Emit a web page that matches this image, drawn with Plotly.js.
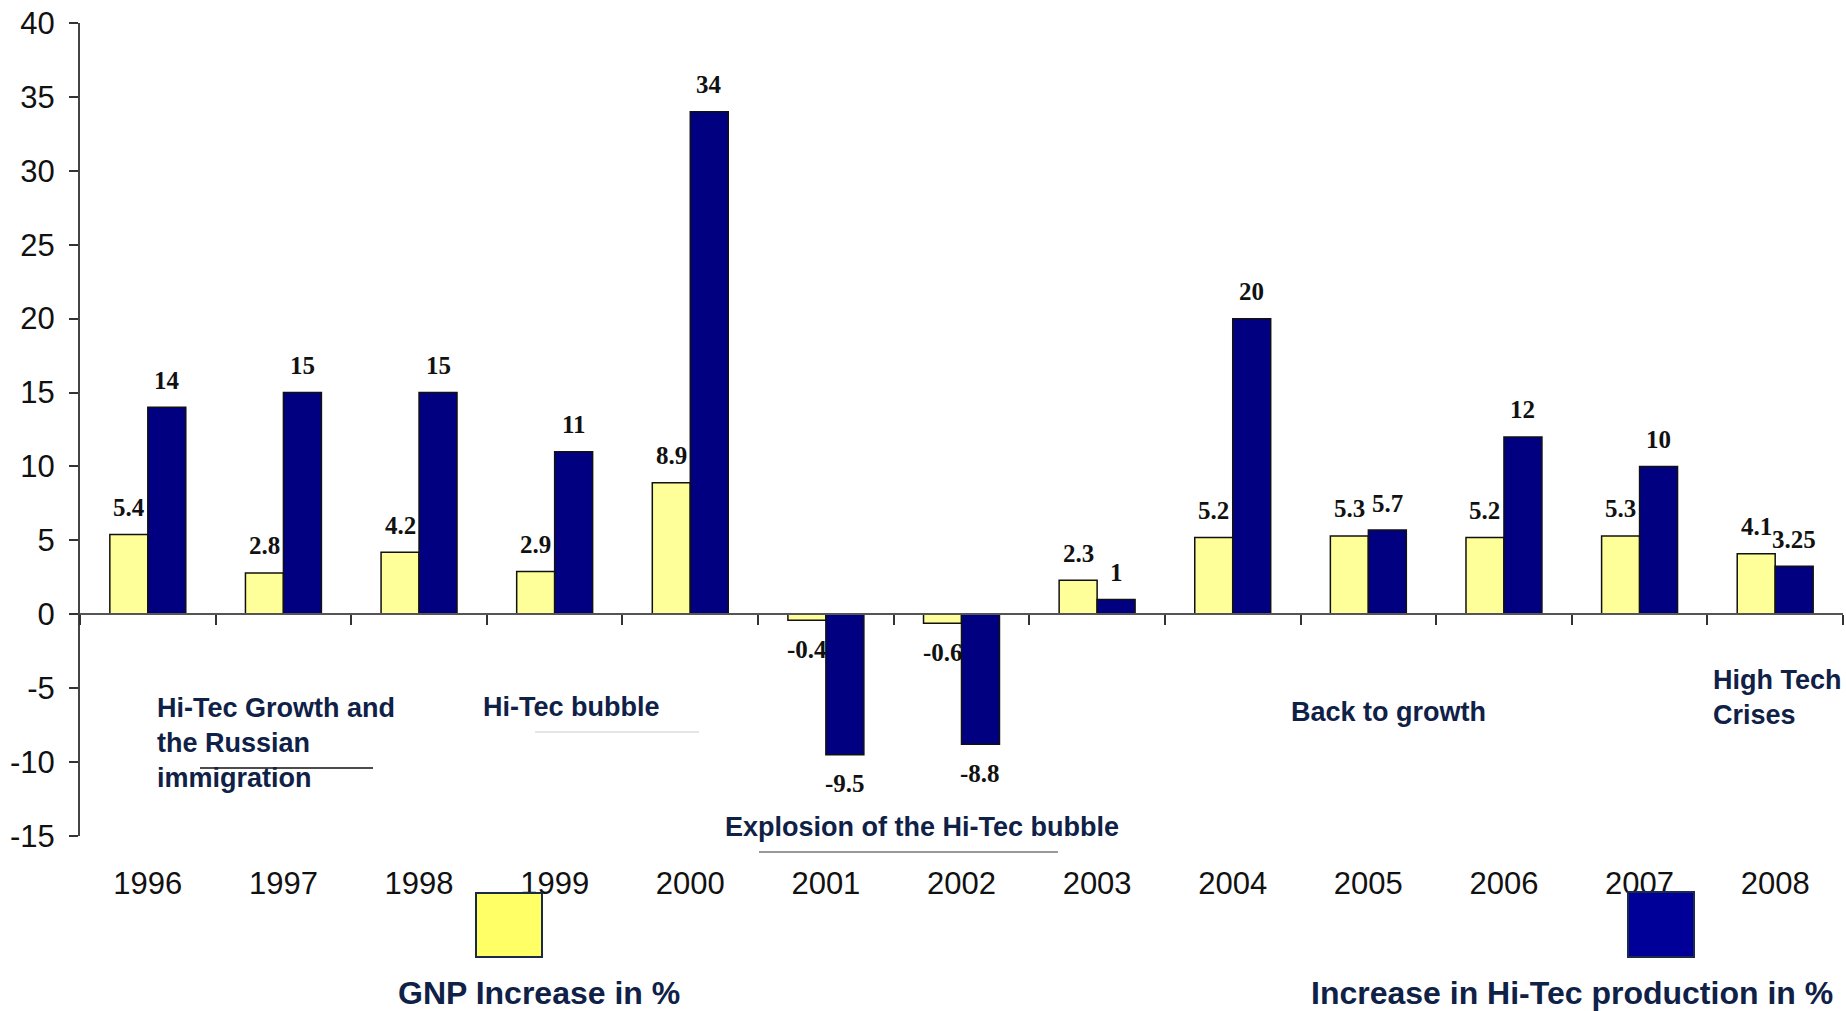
<!DOCTYPE html>
<html>
<head>
<meta charset="utf-8">
<script src="https://cdn.plot.ly/plotly-3.0.1.min.js"></script>
<style>
  html, body { margin: 0; padding: 0; background: #ffffff; }
  #chart { width: 1846px; height: 1011px; }
</style>
</head>
<body>
<div id="chart"></div>
<script>
// ---- data ----
const categories = ['1996','1997','1998','1999','2000','2001','2002','2003','2004','2005','2006','2007','2008'];
const gnpIncrease = [5.4, 2.8, 4.2, 2.9, 8.9, -0.4, -0.6, 2.3, 5.2, 5.3, 5.2, 5.3, 4.1];
const hitecIncrease = [14, 15, 15, 11, 34, -9.5, -8.8, 1, 20, 5.7, 12, 10, 3.25];
const yTickVals = [-15, -10, -5, 0, 5, 10, 15, 20, 25, 30, 35, 40];
const seriesNames = ['GNP Increase in %', 'Increase in Hi-Tec production in %'];

// ---- layout geometry ----
const FIG_W = 1846, FIG_H = 1011;
const M = { l: 80, r: 3, t: 23, b: 175 };
const PW = FIG_W - M.l - M.r, PH = FIG_H - M.t - M.b;
const Y_MIN = -15, Y_MAX = 40;
const BARGAP = 0.44;
const fx = px => (px - M.l) / PW;
const fy = py => (FIG_H - M.b - py) / PH;

const YELLOW = '#FFFF99', BLUE = '#000080';
const NAVY_TEXT = '#0F2147';

const traces = [
  { type: 'bar', name: seriesNames[0], x: categories, y: gnpIncrease,
    marker: { color: YELLOW, line: { color: '#111', width: 1.5 } }, hoverinfo: 'x+y' },
  { type: 'bar', name: seriesNames[1], x: categories, y: hitecIncrease,
    marker: { color: BLUE, line: { color: '#111', width: 1.5 } }, hoverinfo: 'x+y' },
  // helper trace so the zero-crossing axis with boundary ticks is drawn
  { type: 'scatter', mode: 'none', x: categories, y: categories.map(() => 0),
    xaxis: 'x2', yaxis: 'y', showlegend: false, hoverinfo: 'skip' }
];

// bar value labels
const barOffset = (PW / categories.length) * (1 - BARGAP) / 4;
const labelFont = { family: 'Liberation Serif', size: 25, color: '#111' };
const annotations = [];
function addLabels(vals, shift) {
  vals.forEach((v, i) => {
    annotations.push({
      x: i, y: v, xref: 'x', yref: 'y',
      text: '<b>' + String(v) + '</b>', showarrow: false,
      xshift: shift, yshift: (v >= 0 ? 27 : -29),
      font: labelFont, xanchor: 'center', yanchor: 'middle'
    });
  });
}
addLabels(gnpIncrease, -barOffset);
addLabels(hitecIncrease, barOffset);

// text notes
const noteFont = { family: 'Liberation Sans', size: 27, color: NAVY_TEXT };
const legendFont = { family: 'Liberation Sans', size: 32, color: NAVY_TEXT };
const notes = [
  { text: '<b>Hi-Tec Growth and<br>the Russian<br>immigration</b>', px: 155, py: 743, font: noteFont },
  { text: '<b>Hi-Tec bubble</b>', px: 481, py: 707, font: noteFont },
  { text: '<b>Explosion of the Hi-Tec bubble</b>', px: 723, py: 827, font: noteFont },
  { text: '<b>Back to growth</b>', px: 1289, py: 712, font: noteFont },
  { text: '<b>High Tech<br>Crises</b>', px: 1711, py: 697, font: noteFont },
  { text: '<b>' + seriesNames[0] + '</b>', px: 396, py: 993, font: legendFont },
  { text: '<b>' + seriesNames[1] + '</b>', px: 1309, py: 993, font: legendFont }
];
notes.forEach(n => annotations.push({
  xref: 'paper', yref: 'paper', x: fx(n.px), y: fy(n.py), text: n.text,
  showarrow: false, xanchor: 'left', yanchor: 'middle', align: 'left', font: n.font
}));

const shapes = [
  { type: 'line', xref: 'paper', yref: 'paper', x0: fx(200), x1: fx(373), y0: fy(768), y1: fy(768),
    line: { color: '#111', width: 1.5 } },
  { type: 'line', xref: 'paper', yref: 'paper', x0: fx(535), x1: fx(699), y0: fy(732), y1: fy(732),
    line: { color: '#cccccc', width: 1.2 } },
  { type: 'line', xref: 'paper', yref: 'paper', x0: fx(759), x1: fx(1058), y0: fy(852), y1: fy(852),
    line: { color: '#777777', width: 1.5 } },
  { type: 'rect', xref: 'paper', yref: 'paper', x0: fx(476), x1: fx(542), y0: fy(957), y1: fy(893),
    fillcolor: '#FFFF66', line: { color: '#1A2A4A', width: 2 }, layer: 'above' },
  { type: 'rect', xref: 'paper', yref: 'paper', x0: fx(1628), x1: fx(1694), y0: fy(957), y1: fy(892),
    fillcolor: '#000099', line: { color: '#1A2A4A', width: 2 }, layer: 'above' }
];

const layout = {
  width: FIG_W, height: FIG_H,
  margin: M,
  paper_bgcolor: '#ffffff', plot_bgcolor: '#ffffff',
  showlegend: false,
  barmode: 'group', bargap: BARGAP, bargroupgap: 0,
  xaxis: {
    type: 'category', range: [-0.5, categories.length - 0.5],
    showline: false, showgrid: false, zeroline: false, ticks: '',
    ticklabelstandoff: 26,
    tickfont: { family: 'Liberation Sans', size: 31, color: '#111' },
    fixedrange: true
  },
  xaxis2: {
    type: 'category', overlaying: 'x', anchor: 'free',
    position: (0 - Y_MIN) / (Y_MAX - Y_MIN),
    range: [-0.5, categories.length - 0.5],
    tickson: 'boundaries', ticks: 'outside', ticklen: 10, tickwidth: 1.5, tickcolor: '#333',
    showline: true, linecolor: '#555', linewidth: 2,
    showticklabels: false, showgrid: false, zeroline: false, fixedrange: true
  },
  yaxis: {
    range: [Y_MIN, Y_MAX], tickvals: yTickVals, ticktext: yTickVals.map(String),
    ticks: 'outside', ticklen: 9, tickwidth: 1.5, tickcolor: '#333',
    showline: true, linecolor: '#444', linewidth: 2,
    showgrid: false, zeroline: false,
    ticklabelstandoff: 8,
    tickfont: { family: 'Liberation Sans', size: 31, color: '#111' },
    fixedrange: true
  },
  annotations: annotations,
  shapes: shapes
};

Plotly.newPlot('chart', traces, layout, { displayModeBar: false });
</script>
</body>
</html>
